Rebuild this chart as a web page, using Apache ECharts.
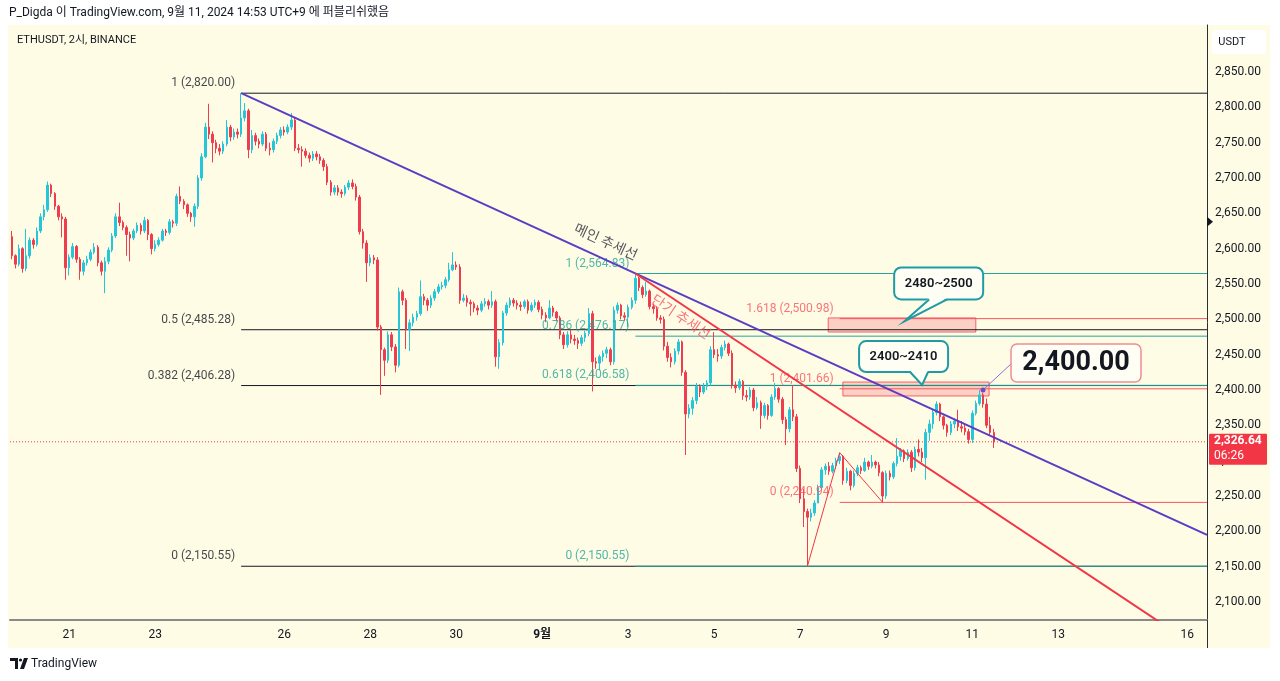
<!DOCTYPE html>
<html><head><meta charset="utf-8">
<script src="https://cdn.jsdelivr.net/npm/echarts/dist/echarts.min.js"></script>
<style>html,body{margin:0;padding:0;background:#fff;}#c{width:1280px;height:681px;}</style>
</head><body><div id="c"></div>
<script>
const FONT = "Roboto, 'Noto Sans CJK KR', sans-serif";
// ---- time axis ----
const startTime = '2024-08-19T16:00:00Z';
const barHours = 2;
const slotCount = 334;
const tickDates = ['2024-08-21','2024-08-23','2024-08-26','2024-08-28','2024-08-30','2024-09-01','2024-09-03','2024-09-05','2024-09-07','2024-09-09','2024-09-11','2024-09-13','2024-09-16'];
const tickLabels = ['21','23','26','28','30','9월','3','5','7','9','11','13','16'];
// ---- candles (2h) ----
const firstOpen = 2617;
const closes = [2590,2578,2600,2572,2590,2612,2606,2625,2645,2655,2690,2678,2660,2645,2642,2573,2588,2603,2585,2568,
2580,2585,2595,2602,2580,2568,2582,2598,2618,2645,2637,2630,2620,2615,2625,2633,2625,2640,2620,2600,
2606,2612,2625,2623,2638,2636,2674,2667,2662,2650,2645,2660,2700,2730,2772,2762,2750,2742,2738,2748,
2772,2758,2765,2762,2785,2795,2740,2760,2752,2748,2762,2742,2740,2752,2760,2768,2765,2772,2782,2742,
2740,2738,2732,2728,2734,2730,2725,2716,2694,2680,2686,2680,2678,2687,2693,2688,2673,2624,2608,2580,
2587,2584,2489,2457,2442,2478,2461,2435,2539,2527,2485,2495,2503,2508,2532,2527,2520,2530,2539,2546,
2548,2556,2570,2577,2574,2527,2530,2524,2522,2516,2513,2522,2525,2520,2525,2447,2467,2509,2520,2527,
2523,2520,2518,2525,2513,2520,2524,2514,2506,2502,2516,2510,2502,2478,2464,2478,2472,2470,2466,2474,
2480,2508,2440,2438,2447,2452,2457,2440,2513,2520,2505,2503,2517,2527,2558,2545,2535,2540,2518,2515,
2502,2500,2462,2446,2440,2455,2468,2425,2366,2374,2385,2405,2397,2405,2410,2457,2450,2448,2460,2465,
2452,2407,2403,2412,2392,2390,2400,2375,2382,2364,2378,2364,2390,2402,2387,2358,2345,2372,2362,2289,
2246,2228,2220,2226,2240,2262,2287,2292,2285,2293,2300,2306,2272,2285,2265,2282,2290,2286,2298,2292,
2298,2294,2283,2250,2282,2277,2296,2306,2314,2303,2312,2290,2316,2312,2304,2340,2352,2368,2380,2362,
2350,2340,2352,2356,2348,2346,2341,2330,2367,2381,2393,2380,2350,2340,2326.64];
const highs = [2625,2592,2606,2602,2628,2616,2615,2630,2650,2662,2695,2692,2680,2662,2650,2645,2592,2608,2605,2588,
2584,2590,2599,2608,2605,2583,2588,2602,2622,2650,2665,2640,2633,2624,2628,2637,2636,2645,2642,2622,
2612,2616,2628,2628,2642,2641,2678,2688,2670,2664,2652,2664,2704,2735,2778,2805,2766,2754,2748,2752,
2782,2775,2770,2770,2820,2806,2798,2768,2764,2756,2766,2765,2750,2756,2764,2772,2773,2776,2792,2785,
2748,2745,2742,2736,2738,2738,2734,2728,2720,2697,2690,2690,2684,2690,2697,2698,2692,2676,2628,2612,
2592,2591,2588,2492,2460,2483,2482,2465,2545,2542,2530,2500,2508,2512,2555,2536,2530,2534,2543,2550,
2553,2560,2580,2595,2582,2578,2536,2534,2528,2525,2520,2526,2530,2528,2540,2528,2472,2512,2524,2531,
2530,2527,2525,2528,2528,2524,2528,2527,2518,2510,2527,2519,2512,2505,2482,2483,2485,2478,2474,2478,
2484,2516,2512,2446,2450,2456,2461,2460,2518,2524,2522,2510,2521,2531,2564.83,2560,2548,2553,2542,2522,
2518,2506,2504,2468,2452,2459,2472,2470,2428,2380,2390,2410,2408,2410,2414,2462,2482,2458,2464,2470,
2467,2456,2412,2416,2414,2400,2404,2403,2390,2385,2382,2380,2394,2410,2404,2390,2362,2376,2407,2366,
2293,2260,2232,2232,2244,2266,2291,2296,2298,2297,2304,2311.27,2308,2290,2287,2286,2294,2293,2304,2300,
2308,2300,2298,2285,2286,2286,2299,2332,2318,2316,2316,2315,2320,2330,2318,2345,2358,2372,2384,2382,
2364,2352,2356,2360,2372,2356,2352,2345,2371,2385,2400,2396,2388,2362,2345];
const lows = [2585,2572,2575,2566,2568,2586,2600,2603,2622,2640,2652,2673,2655,2640,2616,2556,2562,2585,2580,2556,
2562,2576,2582,2592,2575,2562,2537,2578,2595,2615,2632,2626,2590,2582,2612,2622,2620,2622,2612,2592,
2596,2603,2610,2618,2620,2630,2632,2663,2656,2645,2638,2631,2656,2696,2728,2755,2722,2735,2732,2734,
2745,2752,2754,2756,2758,2780,2728,2735,2746,2742,2745,2738,2732,2736,2748,2756,2760,2762,2768,2738,
2735,2716,2728,2722,2724,2725,2720,2710,2690,2675,2676,2675,2672,2675,2683,2684,2668,2620,2600,2553,
2575,2578,2484,2393,2420,2438,2455,2425,2432,2520,2458,2455,2490,2498,2505,2520,2512,2516,2526,2536,
2542,2544,2553,2568,2570,2522,2524,2518,2505,2510,2506,2510,2518,2514,2516,2433,2430,2463,2505,2516,
2518,2514,2512,2515,2508,2510,2516,2510,2500,2496,2500,2504,2497,2472,2458,2460,2466,2464,2458,2462,
2468,2476,2398,2430,2428,2440,2445,2435,2436,2508,2500,2498,2489,2514,2522,2540,2530,2532,2514,2508,
2498,2494,2456,2440,2432,2436,2450,2420,2308,2360,2365,2380,2390,2394,2400,2406,2445,2440,2444,2456,
2448,2402,2396,2400,2386,2384,2386,2370,2372,2345,2360,2358,2362,2386,2382,2352,2322,2340,2356,2284,
2240,2206,2150.55,2214,2222,2240,2258,2280,2280,2282,2288,2295,2266,2268,2258,2262,2278,2281,2284,2287,
2289,2289,2278,2240.94,2246,2272,2274,2292,2300,2298,2300,2284,2286,2306,2298,2273,2328,2345,2364,2356,
2344,2334,2336,2346,2342,2340,2336,2324,2325,2364,2378,2375,2346,2335,2318];
// ---- drawings ----
const blackFibRatios = ['1','0.5','0.382','0'];
const blackFibLevels = [2820.00, 2485.28, 2406.28, 2150.55];
const blackFibStart = 64;
const tealFibRatios = ['1','0.786','0.618','0'];
const tealFibLevels = [2564.83, 2476.17, 2406.58, 2150.55];
const tealFibStart = 174;
const redFibRatios = ['1.618','1','0'];
const redFibLevels = [2500.98, 2401.66, 2240.94];
const redFibStart = 231;
const rightEdge = 333.5;
const mainTrend = [[64, 2820], [333.5, 2195]];
const shortTrend = [[174, 2564.83], [333.5, 2027]];
const zigzag = [[222, 2150.55], [231, 2311.27], [243, 2240.94]];
const zones = [[227.8, 2482, 269, 2502], [231.9, 2391.5, 272.7, 2411.3]];
const mainTrendLabel = {text:'메인 추세선', at:[165.6, 2608]};
const shortTrendLabel = {text:'단기 추세선', at:[186.5, 2502]};
const calloutA = {text:'2480~2500', tip:[249, 2497]};
const calloutB = {text:'2400~2410', tip:[254, 2407]};
const priceNote = {text:'2,400.00', at:[271, 2400]};
const lastPrice = 2326.64;
const countdown = '06:26';

// ---- build ----
const startMs = Date.parse(startTime);
const cats = [];
for (let k = 0; k < slotCount; k++) cats.push(new Date(startMs + k*barHours*3600e3).toISOString().slice(0,13));
const tickIdx = {};
tickDates.forEach((d,j)=>{ tickIdx[Math.round((Date.parse(d+'T00:00:00Z')-startMs)/(barHours*3600e3))] = tickLabels[j]; });
const candles = closes.map((c,i)=>{
  const o = i===0 ? firstOpen : closes[i-1];
  return [o, c, Math.min(lows[i], o, c), Math.max(highs[i], o, c)];
});
const fmt = v => v.toLocaleString('en-US',{minimumFractionDigits:2, maximumFractionDigits:2});

const UP = '#26c6da', DOWN = '#ef3c4e';
const TEAL = '#26a69a', RED = '#f7525f', BLACK = '#131722', PURPLE = '#5b3cc4';

const series = [];
function hline(level, start, color, z){
  series.push({type:'line', xAxisIndex:1, data:[[start, level],[rightEdge, level]], symbol:'none', silent:true,
    lineStyle:{color, width:1}, z, animation:false});
}
function fibLabels(ratios, levels, start, color){
  series.push({type:'scatter', xAxisIndex:1, symbolSize:0, silent:true, z:6, animation:false,
    data: levels.map((l,k)=>({value:[start,l], name: ratios[k]+' ('+fmt(l)+')'})),
    label:{show:true, position:'left', distance:6, offset:[0,-10], formatter:p=>p.name, color, fontSize:12, fontFamily:FONT}});
}
blackFibLevels.forEach(l=>hline(l, blackFibStart, BLACK, 3));
tealFibLevels.forEach(l=>hline(l, tealFibStart, TEAL, 4));
redFibLevels.forEach(l=>hline(l, redFibStart, RED, 4));
fibLabels(blackFibRatios, blackFibLevels, blackFibStart, BLACK);
fibLabels(tealFibRatios, tealFibLevels, tealFibStart, TEAL);
fibLabels(redFibRatios, redFibLevels, redFibStart, RED);

series.push({type:'candlestick', data:candles, barWidth:2, silent:true, z:5, animation:false,
  itemStyle:{color:UP, color0:DOWN, borderColor:UP, borderColor0:DOWN, borderWidth:1}});
series.push({type:'line', xAxisIndex:1, data:mainTrend, symbol:'none', silent:true, z:7, animation:false,
  lineStyle:{color:PURPLE, width:2}});
series.push({type:'line', xAxisIndex:1, data:shortTrend, symbol:'none', silent:true, z:7, animation:false,
  lineStyle:{color:'#f23645', width:2}});
series.push({type:'line', xAxisIndex:1, data:zigzag, symbol:'none', silent:true, z:7, animation:false,
  lineStyle:{color:'#f23645', width:1}});
series.push({type:'line', xAxisIndex:1, data:[[-0.5,lastPrice],[rightEdge,lastPrice]], symbol:'none', silent:true, z:4, animation:false,
  lineStyle:{color:'#f23645', width:1, type:[1,2]},
  markArea:{silent:true, itemStyle:{color:'rgba(242,54,69,0.22)', borderColor:'rgba(242,54,69,0.75)', borderWidth:1},
    data: zones.map(zn=>[{coord:[zn[0],zn[1]]},{coord:[zn[2],zn[3]]}])}});
series.push({type:'scatter', xAxisIndex:1, symbolSize:0, silent:true, z:8, animation:false,
  data:[{value:mainTrendLabel.at, name:mainTrendLabel.text, label:{rotate:-24.5, color:'#2a2e39'}},
        {value:shortTrendLabel.at, name:shortTrendLabel.text, label:{rotate:-33.6, color:'#f7525f'}}],
  label:{show:true, position:'inside', formatter:p=>p.name, fontSize:14, fontFamily:FONT}});

const chart = echarts.init(document.getElementById('c'), null, {renderer:'canvas'});
chart.setOption({
  animation:false,
  backgroundColor:'#ffffff',
  grid:{left:10, right:73, top:25, bottom:61, containLabel:false, outerBoundsMode:'none'},
  xAxis:[{type:'category', data:cats, boundaryGap:true,
      axisLine:{show:true, onZero:false, lineStyle:{color:'#8a8a8a', width:2}}, axisTick:{show:false}, splitLine:{show:false},
      axisLabel:{interval:(idx)=>tickIdx[idx]!==undefined, margin:9, color:BLACK, fontSize:12, fontFamily:FONT,
        formatter:(v,idx)=>tickIdx[idx]==='9월' ? '{b|9월}' : (tickIdx[idx]||''), rich:{b:{fontWeight:'bold', fontSize:12, fontFamily:FONT, color:BLACK}}}},
    {type:'value', min:-0.5, max:rightEdge, show:false}],
  yAxis:{type:'value', position:'right', min:2074.5, max:2916.5, splitNumber:17, scale:true,
    axisLine:{show:true, onZero:false, lineStyle:{color:'#2a2e39', width:1}}, axisTick:{show:false}, splitLine:{show:false},
    axisLabel:{margin:8, color:BLACK, fontSize:12, fontFamily:FONT, showMinLabel:false, showMaxLabel:false,
      formatter:v=>(Math.abs(v/50-Math.round(v/50))<1e-6 && v>=2100 && v<=2850) ? fmt(v) : ''}},
  series
});

function P(i,p){ return chart.convertToPixel({xAxisIndex:1, yAxisIndex:0},[i,p]); }
const BOXFILL = '#fffef4';
function callout(c, bx, by, bw, bh, t1, t2){
  const t = P(c.tip[0], c.tip[1]);
  const top = t[1]+by, bot = t[1]+by+bh;
  return [
    {type:'rect', z:120, shape:{x:t[0]+bx, y:top, width:bw, height:bh, r:7}, style:{fill:BOXFILL, stroke:'#1f9ba5', lineWidth:2}},
    {type:'polygon', z:121, shape:{points:[[t[0]+t1,bot-1.5],[t[0]+t2,bot-1.5],[t[0],t[1]]]}, style:{fill:BOXFILL}},
    {type:'polyline', z:122, shape:{points:[[t[0]+t1,bot],[t[0],t[1]],[t[0]+t2,bot]]}, style:{stroke:'#1f9ba5', lineWidth:2, fill:null}},
    {type:'text', z:123, style:{x:t[0]+bx+bw/2, y:top+bh/2, text:c.text, align:'center', verticalAlign:'middle', fill:'#131722', font:'600 13px '+FONT}}
  ];
}
const g = [];
g.push({type:'rect', z:-10, shape:{x:8, y:25, width:1262, height:623}, style:{fill:'#fffce6'}});
g.push({type:'line', z:50, shape:{x1:1207.5, y1:620, x2:1207.5, y2:648}, style:{stroke:'#2a2e39', lineWidth:1}});
g.push({type:'text', z:50, style:{x:9, y:13, text:'P_Digda 이 TradingView.com, 9월 11, 2024 14:53 UTC+9 에 퍼블리쉬했음', verticalAlign:'middle', fill:'#131722', font:'12px '+FONT}});
g.push({type:'text', z:50, style:{x:17, y:40, text:'ETHUSDT, 2시, BINANCE', verticalAlign:'middle', fill:'#131722', font:'11px '+FONT}});
g.push({type:'rect', z:50, shape:{x:1212, y:30, width:54, height:24, r:4}, style:{fill:'#ffffff'}});
g.push({type:'text', z:51, style:{x:1232, y:42, text:'USDT', align:'center', verticalAlign:'middle', fill:'#131722', font:'11px '+FONT}});
// TradingView logo
g.push({type:'polygon', z:50, shape:{points:[[10,658],[18,658],[18,669],[15,669],[15,661],[10,661]]}, style:{fill:'#131722'}});
g.push({type:'circle', z:50, shape:{cx:20.5, cy:660, r:1.6}, style:{fill:'#131722'}});
g.push({type:'polygon', z:50, shape:{points:[[24,658],[28,658],[24,669],[20,669]]}, style:{fill:'#131722'}});
g.push({type:'text', z:50, style:{x:31, y:664, text:'TradingView', verticalAlign:'middle', fill:'#131722', font:'12px '+FONT}});
// price axis marker
const mk = P(0, 2638);
g.push({type:'polygon', z:60, shape:{points:[[1207,mk[1]-5],[1213,mk[1]],[1207,mk[1]+5]]}, style:{fill:'#131722'}});
// last price tag
const lp = P(0, lastPrice);
g.push({type:'rect', z:100, shape:{x:1209, y:lp[1]-8, width:58, height:31, r:1}, style:{fill:'#f23645'}});
g.push({type:'text', z:101, style:{x:1214, y:lp[1]-1, text:fmt(lastPrice), verticalAlign:'middle', fill:'#fff', font:'bold 12px '+FONT}});
g.push({type:'text', z:101, style:{x:1214, y:lp[1]+14, text:countdown, verticalAlign:'middle', fill:'#fff', font:'12px '+FONT}});
// callouts
g.push(...callout(calloutA, -10, -54, 89, 32, 25, 43));
g.push(...callout(calloutB, -63, -44, 89, 31, -12, 6));
// price note
const d = P(priceNote.at[0], priceNote.at[1]);
g.push({type:'line', z:110, shape:{x1:d[0], y1:d[1], x2:d[0]+29, y2:d[1]-27}, style:{stroke:'#8e6fd8', lineWidth:1}});
g.push({type:'circle', z:111, shape:{cx:d[0], cy:d[1], r:2.5}, style:{fill:'#6a4fc9'}});
g.push({type:'rect', z:112, shape:{x:d[0]+28, y:d[1]-46, width:130, height:38, r:6}, style:{fill:BOXFILL, stroke:'#ef8c96', lineWidth:1.5}});
g.push({type:'text', z:113, style:{x:d[0]+93, y:d[1]-27, text:priceNote.text, align:'center', verticalAlign:'middle', fill:'#131722', font:'bold 27px '+FONT}});
chart.setOption({graphic:g});
</script></body></html>
